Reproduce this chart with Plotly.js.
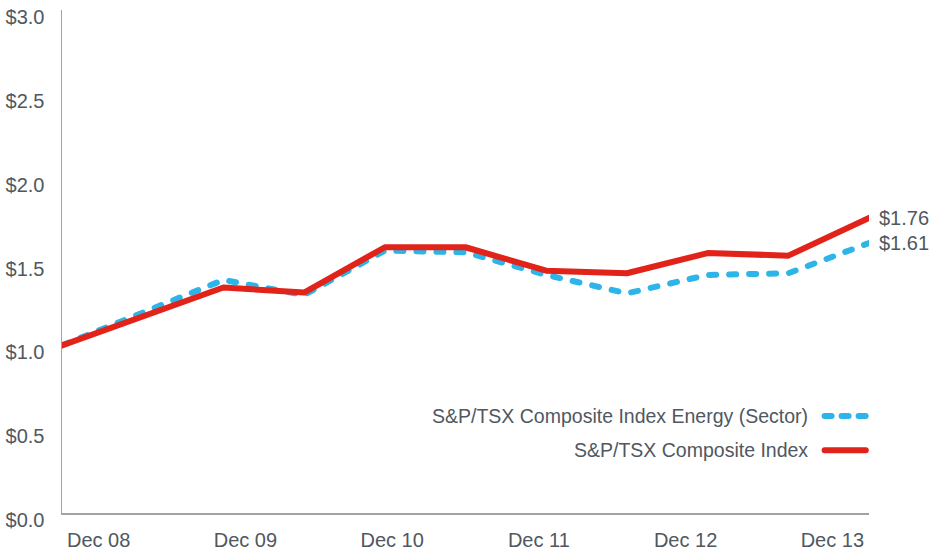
<!DOCTYPE html>
<html><head><meta charset="utf-8">
<script src="https://cdn.plot.ly/plotly-3.0.1.min.js"></script>
<style>
html,body{margin:0;padding:0;background:#fff}
#chart{width:950px;height:552px}
.js-line{stroke-linecap:round;stroke-linejoin:round}
.shapelayer path{stroke-linecap:round}
</style></head><body><div id="chart"></div>
<script>
const seriesNames = ['S&P/TSX Composite Index Energy (Sector)', 'S&P/TSX Composite Index'];
const halfYears = [0, 2, 3, 4, 5, 6, 7, 8, 9, 10];
const energyValues = [1.00, 1.39, 1.30, 1.565, 1.555, 1.42, 1.31, 1.42, 1.43, 1.61];
const compositeValues = [1.00, 1.345, 1.315, 1.585, 1.585, 1.445, 1.43, 1.55, 1.535, 1.76];
const tickLabels = ['Dec 08', 'Dec 09', 'Dec 10', 'Dec 11', 'Dec 12', 'Dec 13'];
const yTicks = [0, 0.5, 1, 1.5, 2, 2.5, 3];

const BLUE = '#2db4e8', RED = '#e2231a', TXT = '#4f5861', AX = '#9ea3a8';
const FONT = 'Liberation Sans, Arial, sans-serif';
const last = halfYears.length - 1;

const traces = [
  {x: halfYears, y: energyValues, name: seriesNames[0], mode: 'lines', type: 'scatter',
   line: {color: BLUE, width: 6, dash: '7px,13px'}, hoverinfo: 'skip'},
  {x: halfYears, y: compositeValues, name: seriesNames[1], mode: 'lines', type: 'scatter',
   line: {color: RED, width: 6}, hoverinfo: 'skip'}
];

const fmt = v => '$' + v.toFixed(2);
const annotations = [
  {x: halfYears[last], y: compositeValues[last], xref: 'x', yref: 'y', text: fmt(compositeValues[last]),
   showarrow: false, xanchor: 'left', yanchor: 'middle', xshift: 8, font: {size: 20, color: TXT, family: FONT}},
  {x: halfYears[last], y: energyValues[last], xref: 'x', yref: 'y', text: fmt(energyValues[last]),
   showarrow: false, xanchor: 'left', yanchor: 'middle', xshift: 8, font: {size: 20, color: TXT, family: FONT}},
  {x: 0.927, y: 0.193, xref: 'paper', yref: 'paper', text: seriesNames[0], showarrow: false,
   xanchor: 'right', yanchor: 'middle', font: {size: 19.5, color: TXT, family: FONT}},
  {x: 0.927, y: 0.125, xref: 'paper', yref: 'paper', text: seriesNames[1], showarrow: false,
   xanchor: 'right', yanchor: 'middle', font: {size: 19.5, color: TXT, family: FONT}}
];
const shapes = [
  {type: 'line', xref: 'paper', yref: 'paper', x0: 0.945, x1: 0.996, y0: 0.193, y1: 0.193,
   line: {color: BLUE, width: 6, dash: '7px,10px'}},
  {type: 'line', xref: 'paper', yref: 'paper', x0: 0.945, x1: 0.996, y0: 0.125, y1: 0.125,
   line: {color: RED, width: 6}}
];

const layout = {
  width: 950, height: 552,
  margin: {l: 62, r: 81, t: 10, b: 39},
  paper_bgcolor: '#fff', plot_bgcolor: '#fff',
  showlegend: false,
  font: {family: FONT, color: TXT},
  xaxis: {range: [0, 10], showline: true, linecolor: AX, linewidth: 1.5, showgrid: false, zeroline: false,
    tickmode: 'array', tickvals: tickLabels.map((_, i) => (i + 0.25) * 10 / 5.5), ticktext: tickLabels,
    ticks: '', ticklabelstandoff: 8, tickfont: {size: 20, color: TXT, family: FONT}, fixedrange: true, automargin: false},
  yaxis: {range: [0, 3], showline: true, linecolor: AX, linewidth: 1.5, showgrid: false, zeroline: false,
    tickmode: 'array', tickvals: yTicks, ticktext: yTicks.map(v => '$' + v.toFixed(1)),
    ticks: '', ticklabelstandoff: 12, ticklabelshift: 7, tickfont: {size: 20, color: TXT, family: FONT}, fixedrange: true, automargin: false},
  annotations, shapes
};

Plotly.newPlot('chart', traces, layout, {staticPlot: true, displayModeBar: false});
</script></body></html>
